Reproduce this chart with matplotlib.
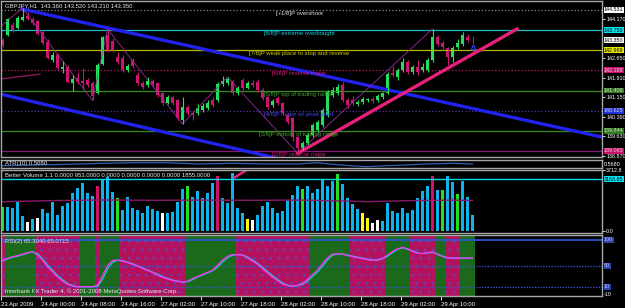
import matplotlib.pyplot as plt
from matplotlib.transforms import blended_transform_factory

plt.rcParams['font.family'] = ['Liberation Sans', 'DejaVu Sans']
plt.rcParams['hatch.linewidth'] = 0.6

# GBPJPY H1 candles (95 bars)
opens = [143.36, 143.56, 143.95, 143.83, 144.14, 144.29, 144.18, 144.10, 143.67, 143.29,
         142.59, 142.78, 142.24, 142.32, 141.70, 141.89, 141.77, 141.81, 141.70, 141.31,
         142.43, 143.56, 143.33, 142.71, 142.67, 142.20, 142.59, 142.01, 141.70, 141.62,
         141.77, 141.70, 141.31, 140.92, 141.15, 141.04, 140.26, 140.77, 140.53, 140.53,
         140.65, 140.73, 141.04, 141.04, 141.66, 141.70, 141.77, 141.31, 141.81, 141.50,
         141.70, 141.74, 141.43, 141.15, 140.84, 141.12, 140.92, 140.46, 140.34, 139.61,
         139.18, 139.37, 139.68, 139.88, 140.07, 140.46, 141.23, 141.31, 141.62, 141.04,
         141.04, 140.88, 140.96, 141.04, 141.08, 141.04, 141.15, 141.31, 142.09, 141.93,
         142.20, 142.51, 142.13, 142.32, 142.20, 142.20, 142.59, 143.48, 143.25, 143.05,
         142.71, 143.09, 143.21, 143.48, 143.36]
highs = [143.44, 144.22, 144.06, 144.30, 144.60, 144.45, 144.26, 144.14, 143.75, 143.40,
         142.90, 142.86, 142.55, 142.40, 142.00, 142.13, 142.28, 141.89, 141.77, 142.48,
         143.52, 143.79, 143.44, 142.90, 142.78, 142.44, 142.67, 142.13, 141.77, 141.93,
         141.85, 141.74, 141.35, 141.23, 141.19, 141.08, 141.15, 140.84, 140.61, 140.88,
         140.92, 141.04, 141.15, 141.74, 141.97, 141.93, 141.81, 141.58, 141.89, 141.77,
         141.81, 141.85, 141.50, 141.19, 141.08, 141.19, 140.96, 140.53, 140.38, 139.65,
         139.45, 139.76, 140.15, 140.26, 140.73, 141.43, 141.54, 141.66, 141.74, 141.12,
         141.19, 141.04, 141.15, 141.12, 141.15, 141.27, 141.35, 142.13, 142.36, 142.28,
         142.67, 142.59, 142.40, 142.59, 142.48, 142.67, 143.79, 143.56, 143.33, 143.09,
         143.13, 143.40, 143.68, 143.60, 143.52]
lows = [143.09, 143.52, 143.67, 143.79, 144.10, 144.14, 143.95, 143.56, 143.17, 142.63,
        142.52, 142.20, 142.09, 141.70, 141.40, 141.66, 141.43, 141.54, 141.02, 141.27,
        142.39, 142.90, 142.90, 142.44, 142.13, 142.13, 142.28, 141.62, 141.46, 141.54,
        141.54, 141.15, 140.84, 140.88, 140.84, 140.26, 140.11, 140.46, 140.26, 140.46,
        140.57, 140.65, 140.77, 140.96, 141.58, 141.62, 141.23, 141.23, 141.43, 141.46,
        141.54, 141.35, 141.04, 140.69, 140.77, 140.84, 140.46, 140.11, 139.45, 138.98,
        139.10, 139.29, 139.61, 139.80, 140.00, 140.38, 141.15, 141.23, 140.96, 140.73,
        140.84, 140.80, 140.88, 140.96, 140.92, 140.96, 141.08, 141.27, 141.93, 141.81,
        142.13, 142.05, 142.05, 142.01, 142.13, 142.13, 142.51, 143.13, 142.98, 142.40,
        142.51, 143.02, 143.13, 143.29, 143.21]
closes = [143.17, 144.18, 143.75, 144.22, 144.26, 144.18, 144.02, 143.60, 143.25, 142.67,
          142.78, 142.28, 142.32, 141.74, 141.85, 141.74, 141.70, 141.62, 141.19, 142.39,
          143.48, 142.98, 142.98, 142.51, 142.20, 142.36, 142.36, 141.70, 141.54, 141.77,
          141.62, 141.23, 140.92, 141.15, 140.92, 140.34, 140.77, 140.53, 140.46, 140.73,
          140.81, 140.92, 140.84, 141.66, 141.77, 141.85, 141.31, 141.50, 141.50, 141.70,
          141.62, 141.43, 141.12, 140.77, 141.00, 140.92, 140.53, 140.18, 139.61, 139.18,
          139.37, 139.68, 140.07, 140.18, 140.65, 141.35, 141.43, 141.54, 141.04, 140.84,
          140.92, 140.96, 141.08, 141.08, 141.00, 141.19, 141.31, 142.05, 142.01, 142.20,
          142.51, 142.13, 142.32, 142.13, 142.32, 142.59, 143.48, 143.21, 143.09, 142.71,
          143.05, 143.25, 143.56, 143.36, 143.35]

# Murrey math levels
mm_levels = [144.531, 143.750, 142.969, 142.188, 141.406, 140.625, 139.844, 139.063]
mm_names = ['[+1/8]P overshoot', '[8/8]P extreme overbought',
            '[7/8]P weak place to stop and reverse', '[6/8]P reverse major',
            '[5/8]P top of trading range', '[4/8]P major s/r pivot point',
            '[3/8]P bottom of trading range', '[2/8]P reverse major']
mm_colors = ['#8a8a8a', '#1fb8c8', '#b8b800', '#c8106a', '#3a8a22', '#5530a8', '#3a8a22', '#8a1a7a']
mm_text = ['#e0e0e0', '#22c8d8', '#d0d000', '#d8187a', '#48a030', '#4848f0', '#48a030', '#d8187a']
mm_styles = [':', '-', '-', ':', '-', ':', '-', '-']
mm_box = ['#ffffff', '#00e4f4', '#e8e800', '#c8106a', '#2f7a1c', '#2233dd', '#2f7a1c', '#c8106a']

price_ticks = [144.170, 142.650, 141.910, 141.150, 140.390, 139.630, 138.870]
last_price = 143.350

# trend lines: (bar, price) pairs
chan_upper = ([3.9, 119.9], [144.565, 139.60])
chan_lower = ([-0.5, 60.0], [141.27, 138.55])
trend_up = ([59.1, 102.9], [138.98, 143.79])
short_line = ([-0.5, 7.5], [141.85, 142.04])
zz_bars = [0, 4, 18, 21, 36, 45, 59, 86]
zz_prices = [143.95, 144.60, 141.02, 143.79, 140.11, 141.93, 138.98, 143.79]

# ATR(10)
atr_bars = [0, 6, 13, 20, 26, 33, 39, 46, 53, 59, 63, 66, 70, 73, 76, 80, 85, 90, 94]
atr_vals = [0.46, 0.50, 0.55, 0.61, 0.65, 0.65, 0.57, 0.61, 0.57, 0.57, 0.65, 0.55,
            0.45, 0.40, 0.45, 0.50, 0.57, 0.61, 0.568]

# Better Volume
volumes = [1482, 1441, 1401, 1746, 914, 568, 710, 771, 1320, 1116,
           1786, 974, 1522, 1726, 2294, 2639, 2902, 2294, 2132, 2740,
           3146, 3310, 2395, 1989, 1279, 2091, 1380, 1279, 1116, 1522,
           1320, 1218, 1076, 1116, 1178, 1786, 2537, 2740, 2091, 2456,
           1989, 2334, 2902, 3350, 1989, 1685, 3500, 1380, 1116, 731,
           670, 974, 1522, 1786, 1380, 1116, 1218, 1888, 2192, 2740,
           2537, 2740, 2294, 2537, 3106, 2760, 3065, 3471, 2862, 1989,
           1644, 1320, 1076, 812, 507, 670, 609, 1685, 1218, 1116,
           1380, 1076, 1279, 1989, 2456, 2740, 3370, 2497, 2497, 3350,
           3005, 2253, 3065, 2091, 953]
vol_kind = list('gbbbbwbwbb' 'bbbbbbbbbp' 'bbbgbbbbbb' 'bbwbbbbgbb' 'bbbpbbbbby'
                'wbbbbbbbbb' 'gbbbbbbgbb' 'bbyywwbbbb' 'bbbbbbpbgb' 'bgbbb')
vol_colors = {'b': '#0cb4ee', 'w': '#ffffff', 'g': '#22e022', 'p': '#d0106a', 'y': '#ffff00'}
vol_ma_bars = [0, 10, 20, 30, 40, 50, 60, 70, 73, 80, 90, 94]
vol_ma = [1785, 1850, 1888, 1870, 1880, 1870, 1880, 1810, 1785, 1840, 1880, 1855]
vol_level = 3163.85
vol_top = 3712.8

# RSI(2) and its signal
rsi_a = [61, 65, 68, 70, 73, 76, 77, 70, 60, 47,
         38, 28, 20, 14, 11, 10, 10, 10, 10, 14,
         33, 52, 61, 61, 59, 56, 53, 49, 45, 41,
         37, 32, 28, 25, 22, 20, 19, 21, 26, 30,
         34, 38, 42, 52, 62, 69, 72, 72, 71, 65,
         59, 53, 44, 36, 28, 21, 15, 12, 11, 13,
         17, 25, 34, 43, 55, 66, 73, 73, 73, 70,
         68, 66, 64, 62, 61, 62, 65, 71, 78, 83,
         86, 82, 78, 74, 74, 76, 77, 72, 68, 66,
         65, 65, 65, 65, 65.3]
rsi_b = [60, 64, 67, 69, 72, 75, 77, 73, 63, 51,
         41, 31, 23, 16, 12, 10, 10, 10, 10, 11,
         26, 46, 58, 61, 60, 57, 54, 50, 46, 42,
         38, 34, 29, 26, 23, 21, 19, 20, 24, 29,
         33, 37, 41, 48, 58, 66, 71, 72, 71, 67,
         61, 55, 47, 39, 31, 24, 17, 13, 11, 12,
         15, 21, 30, 39, 50, 62, 71, 73, 73, 71,
         69, 67, 65, 63, 61, 61, 64, 69, 76, 82,
         85, 83, 79, 75, 74, 75, 76, 73, 69, 66,
         65, 65, 65, 65, 65.1]
zone_kind = ['p', 'g'] * 8
zone_len = [1, 6, 9, 3, 1, 4, 13, 10, 15, 8, 7, 5, 5, 2, 3, 3]
rsi_levels = [100, 50, 10]

time_labels = ['23 Apr 2009', '24 Apr 00:00', '24 Apr 08:00', '24 Apr 16:00',
               '27 Apr 02:00', '27 Apr 10:00', '27 Apr 18:00', '28 Apr 02:00',
               '28 Apr 10:00', '28 Apr 18:00', '29 Apr 02:00', '29 Apr 10:00']

W, H = 625, 308
FS = 4.3
FS_R = 3.9
fig = plt.figure(figsize=(W / 100, H / 100), dpi=100, facecolor='black')


def panel(top, bottom, ylim):
    ax = fig.add_axes([1 / W, (H - bottom) / H, 601 / W, (bottom - top) / H], facecolor='black')
    for s in ax.spines.values():
        s.set_color('#a8a8a8')
        s.set_linewidth(1.0)
    ax.set_xlim(-0.3, 119.9)
    ax.set_ylim(*ylim)
    ax.tick_params(axis='x', bottom=False, labelbottom=False)
    ax.yaxis.tick_right()
    ax.tick_params(axis='y', colors='white', labelsize=FS_R, length=2, width=0.6, pad=1)
    return ax


def side_label(ax, y, text, fc, tc):
    tr = blended_transform_factory(ax.transAxes, ax.transData)
    ax.text(1 + 2 / 601, y, text, transform=tr, fontsize=FS_R, color=tc, va='center', ha='left',
            clip_on=False, bbox=dict(boxstyle='square,pad=0.08', fc=fc, ec='none'))


# ---- price panel
ax = panel(1, 157, (138.829, 144.875))
for lvl, col, ls in zip(mm_levels, mm_colors, mm_styles):
    ax.axhline(lvl, color=col, lw=0.9, ls=ls)
ax.plot(*chan_upper, color='#2222ee', lw=2.4)
ax.plot(*chan_lower, color='#2222ee', lw=2.4)
ax.plot(*short_line, color='#8a1a5a', lw=1.0)
ax.plot(zz_bars, zz_prices, color='#9a2a9a', lw=0.6)
ax.plot(*trend_up, color='#e8207a', lw=2.4)
for k in range(len(opens)):
    up = closes[k] >= opens[k]
    col = '#22e05a' if up else '#cc1470'
    ax.vlines(k, lows[k], highs[k], color=col, lw=0.8)
    ax.bar(k, max(abs(closes[k] - opens[k]), 0.02), bottom=min(opens[k], closes[k]),
           width=0.62, color=col, lw=0)
ax.plot(len(opens) - 1, lows[-1] - 0.12, marker='^', ms=3.5, mfc='none', mec='#3344ff', mew=0.8)
for lvl, name, tc in zip(mm_levels, mm_names, mm_text):
    ax.text(59.3, lvl - 0.04, name, color=tc, fontsize=FS, ha='center', va='top')
ax.text(0.006, 0.985, 'GBPJPY,H1  143.360 143.520 143.210 143.350', transform=ax.transAxes,
        color='#e8e8e8', fontsize=FS, va='top')
ax.set_yticks(price_ticks)
ax.set_yticklabels(['%.3f' % v for v in price_ticks])
for lvl, fc in zip(mm_levels, mm_box):
    tc = 'black' if fc in ('#ffffff', '#00e4f4', '#e8e800') else '#d8d8d8'
    side_label(ax, lvl, '%.3f' % lvl, fc, tc)
side_label(ax, last_price, '%.3f' % last_price, '#ffffff', 'black')

# ---- ATR panel
ax = panel(160, 168, (0.318, 0.818))
ax.plot(atr_bars, atr_vals, color='#3060b8', lw=0.9)
ax.set_yticks([])
ax.text(0.006, 0.5, 'ATR(10) 0.5680', transform=ax.transAxes, color='#e8e8e8', fontsize=FS, va='center')
tr = blended_transform_factory(ax.transAxes, ax.transData)
ax.text(1 + 2 / 601, 0.568, '0.5680', transform=tr, color='white', fontsize=FS_R, va='center', clip_on=False)

# ---- volume panel
ax = panel(170, 233, (-122, vol_top))
ax.bar(range(len(volumes)), volumes, width=0.7, color=[vol_colors[c] for c in vol_kind], lw=0)
ax.axhline(vol_level, color='#00dce4', lw=1.0)
ax.plot(vol_ma_bars, vol_ma, color='#8a1a6a', lw=1.0)
peak = volumes.index(max(volumes))
ax.plot([peak + 0.4, peak + 2.6], [volumes[peak] - 250, vol_top - 40], color='#e8207a', lw=1.8)
ax.text(0.006, 0.96, 'Better Volume 1.1 0.0000 953.0000 0.0000 0.0000 0.0000 0.0000 1855.0000',
        transform=ax.transAxes, color='#e8e8e8', fontsize=FS, va='top')
ax.set_yticks([vol_top, 0])
ax.set_yticklabels(['3712.8', '0.0'])
side_label(ax, vol_level, '3163.85', '#00e4f4', 'black')

# ---- RSI panel
ax = panel(235, 296, (-7.7, 109.6))
start = 0
for kind, n in zip(zone_kind, zone_len):
    if kind == 'p':
        ax.axvspan(start - 0.5, start + n - 0.5, facecolor='#b3125f', edgecolor='#6048b8',
                   hatch='..', lw=0)
    else:
        ax.axvspan(start - 0.5, start + n - 0.5, facecolor='#1b6a1b', lw=0)
    start += n
ax.axhline(rsi_levels[0], color='#3355cc', lw=1.3)
for lvl in rsi_levels[1:]:
    ax.axhline(lvl, color='#3355cc', lw=1.0, ls=(0, (1, 1)))
ax.plot(range(len(rsi_b)), rsi_b, color='#20c8c8', lw=0.9)
ax.plot(range(len(rsi_a)), rsi_a, color='#ff30ff', lw=0.9)
ax.text(0.006, 0.93, 'RSI(2) 65.3040 65.0715', transform=ax.transAxes, color='#e8e8e8',
        fontsize=FS, va='top')
ax.text(0.006, 0.03, 'Interbank FX Trader 4, \u00a9 2001-2008 MetaQuotes Software Corp.',
        transform=ax.transAxes, color='#e8e8e8', fontsize=FS, va='bottom')
ax.set_yticks([])
for lvl in rsi_levels:
    side_label(ax, lvl, str(lvl), '#2a44b0', '#c0c8ff')
tr = blended_transform_factory(ax.transAxes, ax.transData)
ax.text(1 + 2 / 601, -5, '-10', transform=tr, color='white', fontsize=FS_R, va='center', clip_on=False)
ax.tick_params(axis='x', bottom=True, labelbottom=True, colors='white', labelsize=FS,
               length=3, width=0.6, pad=1)
ax.set_xticks([8 * i - 0.4 for i in range(len(time_labels))])
ax.set_xticklabels(time_labels)
for lab in ax.get_xticklabels():
    lab.set_ha('left')

fig.savefig('out.png', dpi=100, facecolor='black')
